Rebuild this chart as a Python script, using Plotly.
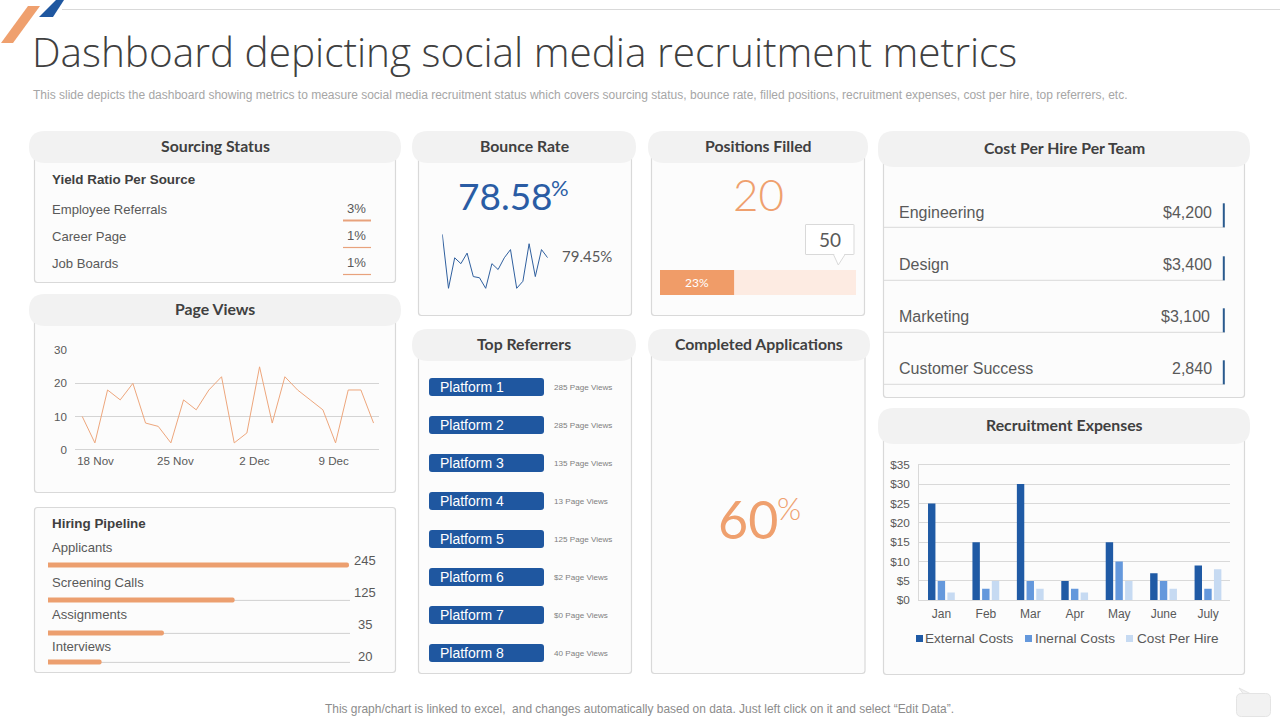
import plotly.graph_objects as go

W, H = 1280, 720

# ---------- data ----------
page_view_values = [10, 2, 18, 15, 20, 8, 7, 2, 15, 12, 18, 22, 2, 5, 25, 8, 22, 18, 15, 12, 2, 18, 18, 8]
page_view_ticks = ["18 Nov", "25 Nov", "2 Dec", "9 Dec"]
page_view_tick_pos = [1.05, 7.35, 13.6, 19.85]
bounce_values = [25, 2, 15, 12.5, 17, 7, 6.5, 2, 12.5, 10, 15, 18.5, 2, 5, 21, 7, 18.5, 15]
yield_sources = ["Employee Referrals", "Career Page", "Job Boards"]
yield_values = ["3%", "1%", "1%"]
pipeline_stages = ["Applicants", "Screening Calls", "Assignments", "Interviews"]
pipeline_values = ["245", "125", "35", "20"]
pipeline_fill = [100, 62, 38.5, 17.8]
platforms = ["Platform 1", "Platform 2", "Platform 3", "Platform 4", "Platform 5", "Platform 6", "Platform 7", "Platform 8"]
platform_views = ["285 Page Views", "285 Page Views", "135 Page Views", "13 Page Views", "125 Page Views", "$2 Page Views", "$0 Page Views", "40 Page Views"]
teams = ["Engineering", "Design", "Marketing", "Customer Success"]
team_costs = ["$4,200", "$3,400", "$3,100", "2,840"]
months = ["Jan", "Feb", "Mar", "Apr", "May", "June", "July"]
external_costs = [25, 15, 30, 5, 15, 7, 9]
internal_costs = [5, 3, 5, 3, 10, 5, 3]
cost_per_hire = [2, 5, 3, 2, 5, 3, 8]
positions_fill = 37.8

# ---------- style ----------
ORANGE = "#EFA06E"
BLUE = "#1F57A0"
DARK = "#404040"
GREY = "#595959"
LINE = "#D9D9D9"
HEAD = "Lato"
BODY = "Liberation Sans"
GEO = "Lato"
SERIES = [("External Costs", external_costs, "#1F5AA5", 916, 925),
          ("Inernal Costs", internal_costs, "#6498DC", 1025, 1035),
          ("Cost Per Hire", cost_per_hire, "#C6DAF2", 1126, 1137)]

def X(v): return v / W
def Y(v): return 1 - v / H
def DX(a, b): return [X(a), X(b)]
def DY(top, bottom): return [Y(bottom), Y(top)]

shapes, annots = [], []

def rrect(x0, y0, x1, y1, r, fill, line=None, lw=1):
    p = (f"M {X(x0+r)} {Y(y0)} L {X(x1-r)} {Y(y0)} Q {X(x1)} {Y(y0)} {X(x1)} {Y(y0+r)} "
         f"L {X(x1)} {Y(y1-r)} Q {X(x1)} {Y(y1)} {X(x1-r)} {Y(y1)} "
         f"L {X(x0+r)} {Y(y1)} Q {X(x0)} {Y(y1)} {X(x0)} {Y(y1-r)} "
         f"L {X(x0)} {Y(y0+r)} Q {X(x0)} {Y(y0)} {X(x0+r)} {Y(y0)} Z")
    shapes.append(dict(type="path", path=p, xref="paper", yref="paper", fillcolor=fill, layer="below",
                       line=dict(color=line or fill, width=lw if line else 0)))

def poly(pts, fill, line=None, lw=0):
    p = "M " + " L ".join(f"{X(a)} {Y(b)}" for a, b in pts) + " Z"
    shapes.append(dict(type="path", path=p, xref="paper", yref="paper", fillcolor=fill, layer="below",
                       line=dict(color=line or fill, width=lw)))

def hline(x0, x1, y, color=LINE, w=1):
    shapes.append(dict(type="line", xref="paper", yref="paper", x0=X(x0), x1=X(x1), y0=Y(y), y1=Y(y),
                       layer="below", line=dict(color=color, width=w)))

def vline(x, y0, y1, color, w):
    shapes.append(dict(type="line", xref="paper", yref="paper", x0=X(x), x1=X(x), y0=Y(y0), y1=Y(y1),
                       layer="below", line=dict(color=color, width=w)))

def txt(x, y, s, size, color=GREY, fam=BODY, anchor="left", weight=None):
    f = dict(size=size, color=color, family=fam)
    if weight:
        f["weight"] = weight
    annots.append(dict(xref="paper", yref="paper", x=X(x), y=Y(y), text=s, showarrow=False, font=f,
                       xanchor=anchor, yanchor="middle", borderpad=0, borderwidth=0))

def panel(px0, px1, cx0, cx1, top, head_h, bottom, title):
    rrect(cx0, top + 10, cx1, bottom, 3, "#FCFCFC", LINE, 1.2)
    rrect(px0, top, px1, top + head_h, 16, "#F2F2F2")
    txt((px0 + px1) / 2, top + head_h / 2 - 1.5, title, 15.8, DARK, HEAD, "center", 700)

# header
poly([(28, 6), (40, 6), (13, 43), (1, 43)], ORANGE)
poly([(56, 0), (64, 0), (53, 17), (39, 17)], BLUE)
hline(62, 1280, 9.5, "#D9D9D9", 1)
txt(32, 52, "Dashboard depicting social media recruitment metrics", 40.5, DARK, "Open Sans", weight=300)
txt(33, 95, "This slide depicts the dashboard showing metrics to measure social media recruitment status which covers sourcing status, bounce rate, filled positions, recruitment expenses, cost per hire, top referrers, etc.",
    12, "#A6A6A6")

# panels
panel(29, 401, 34.5, 395.5, 131, 32, 282.5, "Sourcing Status")
panel(29, 401, 34.5, 395.5, 294, 32, 492.5, "Page Views")
rrect(34.5, 507.5, 395.5, 672.5, 3, "#FCFCFC", LINE, 1.2)
panel(412, 636, 418.5, 631.5, 131, 32, 315.5, "Bounce Rate")
panel(648, 868, 651.5, 864.5, 131, 32, 315.5, "Positions Filled")
panel(412, 636, 418.5, 631.5, 329, 32, 673.5, "Top Referrers")
panel(648, 870, 651.5, 865, 329, 32, 673.5, "Completed Applications")
panel(878, 1250, 883.5, 1244.5, 131, 36, 397.5, "Cost Per Hire Per Team")
panel(878, 1250, 883.5, 1244.5, 408, 36, 674.5, "Recruitment Expenses")

# sourcing
txt(52, 179, "Yield Ratio Per Source", 13.4, DARK, weight=700)
for i, (a, b) in enumerate(zip(yield_sources, yield_values)):
    y = 209.5 + 27 * i
    txt(52, y, a, 13.1, GREY)
    txt(356, y - 1, b, 13.1, GREY, anchor="center")
    hline(343, 371, y + 11, "#E8A27C", 2 if i == 0 else 1.2)

# pipeline
txt(52, 523.5, "Hiring Pipeline", 13.4, DARK, weight=700)
pipe_label_y = [547.5, 582.5, 614.5, 646.5]
pipe_value_y = [560.5, 592.5, 624, 656]
pipe_bar_y = [565, 600, 633, 662]
for i in range(4):
    txt(52, pipe_label_y[i], pipeline_stages[i], 13.1, GREY)
    txt(364.5, pipe_value_y[i], pipeline_values[i], 13, GREY, anchor="center")
    if i:
        hline(48, 350, pipe_bar_y[i] + 0.4, "#D0D0D0", 1)

# bounce / positions / completed big numbers
txt(457.5, 196, "78.58", 37, "#2A5CA4", GEO, weight=400)
txt(551, 188, "%", 22, "#2A5CA4", GEO, weight=400)
txt(562, 256, "79.45%", 15, GREY, GEO, weight=400)
txt(758, 194, "20", 44, ORANGE, GEO, "center", 300)
rrect(805.5, 224.5, 854, 254.5, 0.5, "#FFFFFF", LINE, 1)
poly([(833.5, 254.5), (838.3, 265), (845, 254.5)], "#FFFFFF", LINE, 1)
hline(834.3, 844.2, 254.5, "#FFFFFF", 1.5)
txt(829.5, 239.5, "50", 19, GREY, GEO, "center", 400)
txt(718, 519, "60", 52, ORANGE, GEO, weight=400)
txt(776.5, 508, "%", 31, ORANGE, GEO, weight=300)

# referrers
for i, (a, b) in enumerate(zip(platforms, platform_views)):
    y = 387 + 38 * i
    rrect(429, y - 9, 544, y + 9, 3, BLUE)
    txt(440, y, a, 14, "#FFFFFF")
    txt(554, y, b, 8.1, "#7F7F7F")

# cost per hire
team_y = [212.5, 264.5, 316.5, 369]
team_line = [227.3, 280.3, 332.3, 384.3]
for i in range(4):
    txt(899, team_y[i], teams[i], 16, GREY)
    txt(1212 - (2 if i == 2 else 0), team_y[i], team_costs[i], 16, GREY, anchor="right")
    hline(883.5, 1225, team_line[i], LINE, 1)
    vline(1223.8, team_line[i] - 24, team_line[i], "#2A5A8E", 2)

# expenses legend key
for name, _, col, kx, tx in SERIES:
    shapes.append(dict(type="rect", xref="paper", yref="paper", x0=X(kx), x1=X(kx + 7), y0=Y(642), y1=Y(635),
                       fillcolor=col, layer="below", line=dict(width=0)))
    txt(tx, 638.5, name, 13.6, GREY)

# footer
txt(325, 708.5, "This graph/chart is linked to excel,  and changes automatically based on data. Just left click on it and select “Edit Data”.", 11.95, "#8C8C8C")
rrect(1236.5, 693.5, 1270.5, 716.5, 5, "#F2F2F2", "#E4E4E4", 1)
poly([(1243, 693.5), (1239, 688), (1250, 693.5)], "#F2F2F2", "#E4E4E4", 1)

# ---------- traces ----------
fig = go.Figure()
# page views
fig.add_trace(go.Scatter(x=list(range(24)), y=page_view_values, mode="lines", showlegend=False, hoverinfo="skip",
                         line=dict(color="#EDA67C", width=1), xaxis="x", yaxis="y"))
# sparkline
fig.add_trace(go.Scatter(x=list(range(18)), y=bounce_values, mode="lines", showlegend=False, hoverinfo="skip",
                         line=dict(color="#2F5F9E", width=1), xaxis="x2", yaxis="y2"))
# pipeline bars
fig.add_trace(go.Bar(x=pipeline_fill, y=pipe_bar_y, orientation="h", width=[5] * 4, showlegend=False, hoverinfo="skip",
                     marker=dict(color="#EC9F6F", cornerradius=2.5, line=dict(width=0)), xaxis="x3", yaxis="y3"))
# positions filled bar (full track + filled share)
fig.add_trace(go.Bar(x=[100], y=[0], orientation="h", width=[1], showlegend=False, hoverinfo="skip",
                     marker=dict(color="#FDEBE2", line=dict(width=0)), xaxis="x4", yaxis="y4"))
fig.add_trace(go.Bar(x=[positions_fill], y=[0], orientation="h", width=[1], showlegend=False, hoverinfo="skip",
                     text=["23%"], textposition="inside", insidetextanchor="middle", textangle=0,
                     textfont=dict(color="#FFFFFF", size=12, family=GEO),
                     marker=dict(color="#F09C68", line=dict(width=0)), xaxis="x4", yaxis="y4"))
# recruitment expenses
for name, vals, col, _, _ in SERIES:
    fig.add_trace(go.Bar(x=months, y=vals, name=name, showlegend=False, marker=dict(color=col, line=dict(width=0)),
                         hoverinfo="skip", xaxis="x5", yaxis="y5"))

hidden = dict(visible=False, fixedrange=True)
fig.update_layout(
    width=W, height=H, autosize=False, margin=dict(l=0, r=0, t=0, b=0, pad=0, autoexpand=False),
    paper_bgcolor="#FFFFFF", plot_bgcolor="rgba(0,0,0,0)", showlegend=False,
    barmode="overlay",
    shapes=shapes, annotations=annots,
    font=dict(family=BODY, color=GREY),
    xaxis=dict(domain=DX(75, 379), range=[-0.57, 23.43], tickmode="array", tickvals=page_view_tick_pos,
               ticktext=page_view_ticks, showgrid=False, zeroline=False, showline=False, ticks="", fixedrange=True,
               tickfont=dict(size=11.6, color=GREY, family=BODY), anchor="y", ticklabelstandoff=2),
    yaxis=dict(domain=DY(349.3, 450.5), range=[-0.3, 30.3], tickvals=[0, 10, 20, 30], gridcolor="#D4D4D4", gridwidth=1,
               zeroline=True, zerolinecolor="#D4D4D4", zerolinewidth=1, showline=False, ticks="", fixedrange=True,
               tickfont=dict(size=11.6, color=GREY, family=BODY), anchor="x", ticklabelstandoff=7),
    xaxis2=dict(domain=DX(442.3, 547.7), range=[0, 17], anchor="y2", **hidden),
    yaxis2=dict(domain=DY(222.6, 293), range=[0, 30], anchor="x2", **hidden),
    xaxis3=dict(domain=DX(48, 349), range=[0, 100], anchor="y3", **hidden),
    yaxis3=dict(domain=DY(555, 670), range=[670, 555], anchor="x3", **hidden),
    xaxis4=dict(domain=DX(660, 856), range=[0, 100], anchor="y4", **hidden),
    yaxis4=dict(domain=DY(270, 295), range=[-0.5, 0.5], anchor="x4", **hidden),
    xaxis5=dict(domain=DX(919.3, 1230.3), anchor="y5", showgrid=False, showline=True, linecolor=LINE, ticks="", zeroline=False,
                fixedrange=True, tickfont=dict(size=12, color=GREY, family=BODY), ticklabelstandoff=2),
    yaxis5=dict(domain=DY(463.5, 600.3), range=[0, 35.3], dtick=5, tickprefix="$", anchor="x5", gridcolor=LINE,
                showline=True, linecolor=LINE, ticks="", zeroline=False, fixedrange=True,
                tickfont=dict(size=11.8, color=GREY, family=BODY), ticklabelstandoff=6),
)
# the expenses chart groups its bars side by side
for i, tr in enumerate(fig.data[-3:]):
    tr.update(width=0.167, offset=-0.304 + i * 0.218)

fig.write_html("out.html", config=dict(displayModeBar=False, staticPlot=True),
               post_script="document.body.style.margin='0';document.body.style.overflow='hidden';")
